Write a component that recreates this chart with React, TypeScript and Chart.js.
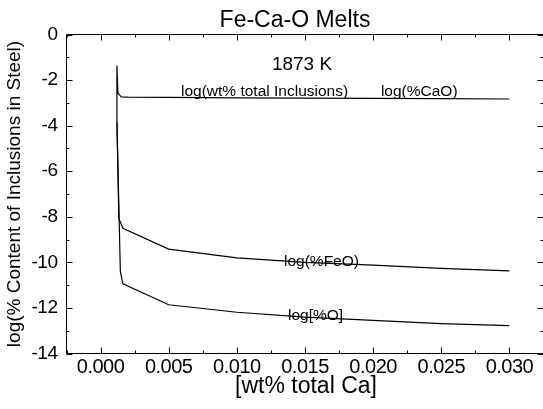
import React, { useEffect, useRef } from "react";
import { Chart, registerables } from "chart.js";

Chart.register(...registerables);

// total Ca (wt%) and log contents for each curve
const caCaO = [0.0012, 0.0012, 0.00127, 0.00152, 0.002, 0.005, 0.01, 0.015, 0.02, 0.025, 0.03];
const logCaO = [-3.84, -1.36, -2.57, -2.74, -2.75, -2.76, -2.78, -2.79, -2.8, -2.81, -2.83];

const caFeO = [0.0012, 0.00134, 0.00164, 0.005, 0.01, 0.015, 0.02, 0.025, 0.03];
const logFeO = [-3.84, -8.07, -8.5, -9.42, -9.8, -10.0, -10.12, -10.26, -10.37];

const caO = [0.0012, 0.00145, 0.00164, 0.005, 0.01, 0.015, 0.02, 0.025, 0.03];
const logO = [-3.84, -10.4, -10.94, -11.86, -12.19, -12.4, -12.55, -12.69, -12.78];

const xMajorTicks = [0, 0.005, 0.01, 0.015, 0.02, 0.025, 0.03];
const yMajorTicks = [0, -2, -4, -6, -8, -10, -12, -14];

const chartTitle = "Fe-Ca-O Melts";
const xTitle = "[wt% total Ca]";
const yTitle = "log(% Content of Inclusions in Steel)";

// in-plot text: [text, x (wt% Ca), y (log), font size]
const notes: [string, number, number, number][] = [
  ["1873 K", 0.01478, -1.56, 19],
  ["log(wt% total Inclusions)", 0.0059, -2.68, 15.5],
  ["log(%CaO)", 0.02057, -2.68, 15.5],
  ["log(%FeO)", 0.01346, -10.16, 15.5],
  ["log[%O]", 0.01375, -12.53, 15.5],
];

const FONT = "'Liberation Sans', Arial, sans-serif";

const pts = (xs: number[], ys: number[]) => xs.map((x, i) => ({ x, y: ys[i] }));

const framePlugin = {
  id: "frameAndText",
  beforeDraw(chart: any) {
    chart.ctx.letterSpacing = "-0.5px";
  },
  afterDraw(chart: any) {
    const { ctx, chartArea: a, scales } = chart;
    const xs = scales.x;
    const ys = scales.y;
    ctx.save();
    ctx.letterSpacing = "0px";
    ctx.strokeStyle = "#000";
    ctx.lineWidth = 1;
    ctx.beginPath();
    ctx.rect(a.left, a.top, a.right - a.left, a.bottom - a.top);
    ctx.stroke();
    // inward ticks on all four sides
    const xMinor: number[] = [];
    for (let v = -0.0025; v <= 0.0326; v += 0.0025) xMinor.push(v);
    ctx.beginPath();
    for (const v of xMinor) {
      const major = xMajorTicks.some((m) => Math.abs(m - v) < 1e-7);
      const len = major ? 6 : 3;
      const px = Math.round(xs.getPixelForValue(v)) + 0.5;
      ctx.moveTo(px, a.bottom);
      ctx.lineTo(px, a.bottom - len);
      ctx.moveTo(px, a.top);
      ctx.lineTo(px, a.top + len);
    }
    for (let v = 0; v >= -14; v -= 1) {
      const major = v % 2 === 0;
      const len = major ? 6 : 3;
      const py = Math.round(ys.getPixelForValue(v)) + 0.5;
      ctx.moveTo(a.left, py);
      ctx.lineTo(a.left + len, py);
      ctx.moveTo(a.right, py);
      ctx.lineTo(a.right - len, py);
    }
    ctx.stroke();

    ctx.fillStyle = "#000";
    ctx.textBaseline = "alphabetic";
    ctx.textAlign = "center";
    // chart title and x title
    ctx.font = `23px ${FONT}`;
    ctx.fillText(chartTitle, 295, 27);
    ctx.fillText(xTitle, 306, 393);
    // y title
    ctx.save();
    ctx.translate(20, (a.top + a.bottom) / 2);
    ctx.rotate(-Math.PI / 2);
    ctx.font = `19px ${FONT}`;
    ctx.fillText(yTitle, 0, 0);
    ctx.restore();
    // notes
    for (const [t, x, y, size] of notes) {
      ctx.font = `${size}px ${FONT}`;
      ctx.textAlign = t === "1873 K" ? "center" : "left";
      ctx.fillText(t, xs.getPixelForValue(x), ys.getPixelForValue(y));
    }
    ctx.restore();
  },
};

export default function App() {
  const ref = useRef<HTMLCanvasElement>(null);
  useEffect(() => {
    if (!ref.current) return;
    const line = { borderColor: "#000", borderWidth: 1.2, pointRadius: 0, tension: 0, fill: false };
    const chart = new Chart(ref.current, {
      type: "line",
      data: {
        datasets: [
          { label: "log(%CaO)", data: pts(caCaO, logCaO), ...line },
          { label: "log(%FeO)", data: pts(caFeO, logFeO), ...line },
          { label: "log[%O]", data: pts(caO, logO), ...line },
        ],
      },
      options: {
        animation: false,
        responsive: false,
        devicePixelRatio: 1,
        layout: { padding: { left: 0, top: 34.5, right: 2.5, bottom: 0 } },
        plugins: { legend: { display: false }, tooltip: { enabled: false }, title: { display: false } },
        scales: {
          x: {
            type: "linear",
            min: -0.0025,
            max: 0.0325,
            afterFit: (s: any) => {
              s.height = 409 - 353.5;
            },
            afterBuildTicks: (s: any) => {
              s.ticks = xMajorTicks.map((value) => ({ value }));
            },
            grid: { display: false, drawTicks: false },
            border: { display: false },
            ticks: {
              color: "#000",
              padding: 2,
              maxRotation: 0,
              autoSkip: false,
              font: { family: FONT, size: 20 },
              callback: (v: any) => Number(v).toFixed(3),
            },
          },
          y: {
            type: "linear",
            min: -14,
            max: 0,
            afterFit: (s: any) => {
              s.width = 66.5;
            },
            afterBuildTicks: (s: any) => {
              s.ticks = yMajorTicks.map((value) => ({ value }));
            },
            grid: { display: false, drawTicks: false },
            border: { display: false },
            ticks: {
              color: "#000",
              padding: 9,
              font: { family: FONT, size: 19 },
              callback: (v: any) => String(v),
            },
          },
        },
      },
      plugins: [framePlugin],
    });
    return () => chart.destroy();
  }, []);
  return (
    <div style={{ position: "fixed", left: 0, top: 0, width: 543, height: 409, overflow: "hidden", background: "#fff" }}>
      <canvas ref={ref} width={546} height={409} style={{ display: "block", width: 546, height: 409 }} />
    </div>
  );
}
